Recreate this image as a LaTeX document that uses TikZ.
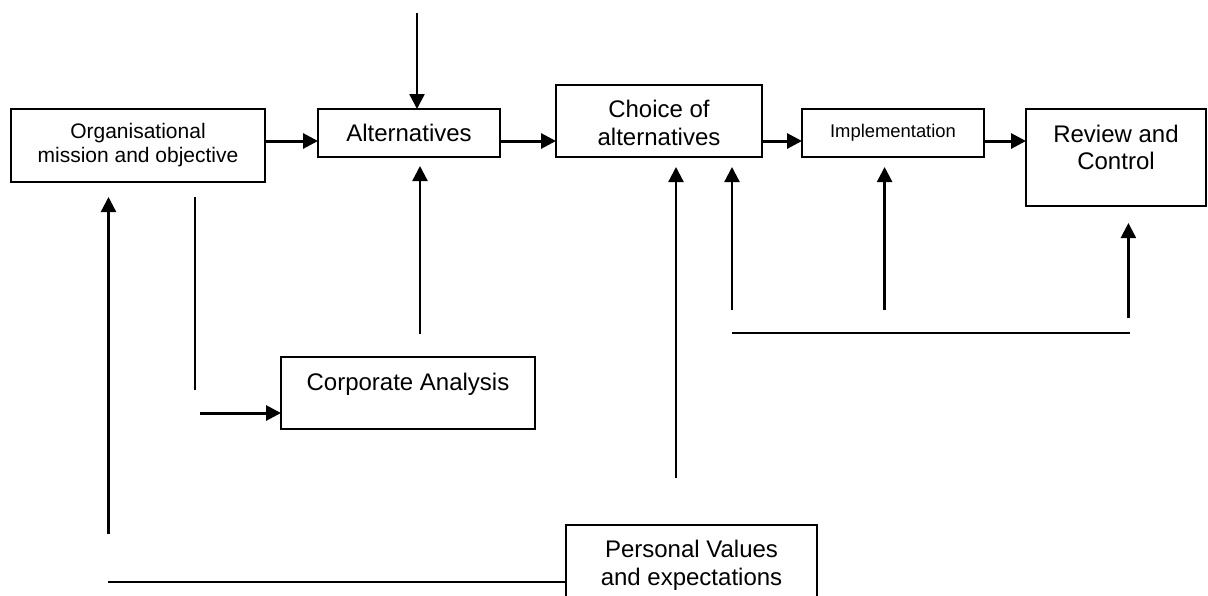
\documentclass[tikz,border=0pt]{standalone}
\usepackage{fontspec}
\setmainfont{Liberation Sans}
\usetikzlibrary{arrows.meta,calc}
\begin{document}
\begin{tikzpicture}[x=1pt,y=-1pt,
  box/.style={draw,line width=2pt,inner sep=0pt,outer sep=0pt,align=center,font=\fontsize{24}{27.5}\selectfont},
  txt/.style={align=center,inner sep=0pt,font=\fontsize{24}{27.5}\selectfont},
  arr/.style={line width=2.3pt,-{Triangle[length=15pt,width=15pt]}},
  harr/.style={line width=3pt,-{Triangle[length=15pt,width=15pt]}},
  ln/.style={line width=1.8pt}]
\useasboundingbox (0,0) rectangle (1208,595);
\clip (0,0) rectangle (1208,595);
% boxes
\node[box,minimum width=254pt,minimum height=73pt,font=\fontsize{21}{24}\selectfont] (org) at (138,145.5) {Organisational\\mission and objective};
\node[box,minimum width=182pt,minimum height=48pt] (alt) at (409,133) {Alternatives};
\node[box,minimum width=206pt,minimum height=72pt] (cho) at (659,121) {};
\node[txt] (chot) at (659,123) {Choice of\\alternatives};
\node[box,minimum width=182pt,minimum height=48pt,font=\fontsize{18.4}{21}\selectfont] (imp) at (893,133) {Implementation};
\node[box,minimum width=180pt,minimum height=97pt] (rev) at (1116,157.5) {};
\node[txt] (revt) at (1116,147.5) {Review and\\Control};
\node[box,minimum width=254pt,minimum height=72pt] (corp) at (408,393) {};
\node[txt] (corpt) at (408,384) {Corporate Analysis};
\node[box,minimum width=251pt,minimum height=90pt] (pers) at (691.5,570) {};
\node[txt] (perst) at (691.5,565.5) {Personal Values\\and expectations};
% free ends
\coordinate (r) at (0,141);
\coordinate (top) at (417,13);
\coordinate (a1) at (420,334);
\coordinate (o1) at (108.5,534);
\coordinate (c1) at (195,197);
\coordinate (c2) at (195,390);
\coordinate (c3) at (199.5,413);
\coordinate (h1) at (676,478);
\coordinate (h2) at (732,310);
\coordinate (h3) at (884.6,310);
\coordinate (h4) at (1128.4,318);
\coordinate (f1) at (732,333);
\coordinate (f2) at (1130,333);
\coordinate (b1) at (108,582);
% connectors
\draw[arr] (top) -- (top |- alt.north);
\draw[harr] (org.east |- r) -- (alt.west |- r);
\draw[harr] (alt.east |- r) -- (cho.west |- r);
\draw[harr] (cho.east |- r) -- (imp.west |- r);
\draw[harr] (imp.east |- r) -- (rev.west |- r);
\draw[arr] (a1) -- ($(alt.south -| a1)+(0,9)$);
\draw[arr] (o1) -- ($(org.south -| o1)+(0,15)$);
\draw[ln] (c1) -- (c2);
\draw[harr] (c3) -- (corp.west |- c3);
\draw[arr] (h1) -- ($(cho.south -| h1)+(0,10)$);
\draw[arr] (h2) -- ($(cho.south -| h2)+(0,10)$);
\draw[arr] (h3) -- ($(imp.south -| h3)+(0,10)$);
\draw[arr] (h4) -- ($(rev.south -| h4)+(0,17)$);
\draw[ln] (f1) -- (f2);
\draw[ln] (b1) -- (pers.west |- b1);
\end{tikzpicture}
\end{document}
